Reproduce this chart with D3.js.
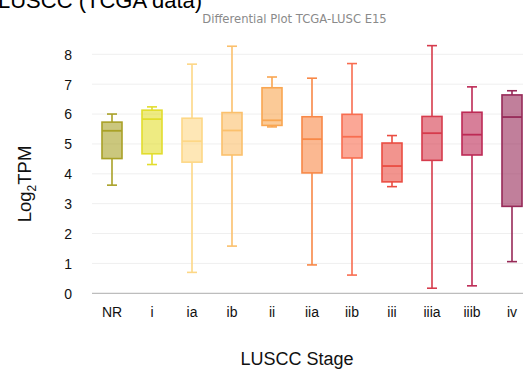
<!DOCTYPE html>
<html>
<head>
<meta charset="utf-8">
<script src="https://cdn.jsdelivr.net/npm/d3@7"></script>
<style>
  body { margin: 0; background: #fff; overflow: hidden; }
  svg { display: block; font-family: "Liberation Sans", Arial, sans-serif; }
</style>
</head>
<body>
<div id="chart"></div>
<script>
const stages = ["NR", "i", "ia", "ib", "ii", "iia", "iib", "iii", "iiia", "iiib", "iv"];
const whiskerLow = [3.62, 4.31, 0.70, 1.58, 5.57, 0.95, 0.61, 3.57, 0.17, 0.25, 1.06];
const q1 = [4.51, 4.67, 4.39, 4.63, 5.62, 4.03, 4.53, 3.73, 4.45, 4.63, 2.91];
const median = [5.44, 5.83, 5.09, 5.45, 5.79, 5.16, 5.24, 4.26, 5.36, 5.31, 5.90];
const q3 = [5.73, 6.13, 5.86, 6.05, 6.88, 5.91, 5.99, 5.03, 5.92, 6.06, 6.64];
const whiskerHigh = [6.00, 6.24, 7.67, 8.27, 7.24, 7.20, 7.69, 5.28, 8.29, 6.91, 6.78];
const colors = ["#a9a127", "#e2dd2e", "#fdd786", "#fbc06c", "#f9a651", "#f88847", "#f86d50", "#ea4d42", "#d63b4c", "#bd2a55", "#972a58"];
const yTicks = [0, 1, 2, 3, 4, 5, 6, 7, 8];

const width = 523;
const height = 370;

const svg = d3.select('#chart')
  .append('svg')
  .attr('width', width)
  .attr('height', height);

const boxes = stages.map((s, i) => ({
  stage: s, lo: whiskerLow[i], q1: q1[i], med: median[i], q3: q3[i], hi: whiskerHigh[i], color: colors[i]
}));

const xScale = d3.scaleBand()
  .domain(stages)
  .range([92, 532])
  .paddingInner(0.5)
  .paddingOuter(0.25);

const yScale = d3.scaleLinear()
  .domain([0, 8])
  .range([293.3, 54.3]);

// gridlines
svg.append('g')
  .selectAll('line')
  .data(yTicks.filter(d => d > 0))
  .join('line')
  .attr('x1', 92)
  .attr('x2', width)
  .attr('y1', d => yScale(d))
  .attr('y2', d => yScale(d))
  .attr('stroke', '#efefef')
  .attr('stroke-width', 1);

// baseline
svg.append('line')
  .attr('x1', 92)
  .attr('x2', width)
  .attr('y1', yScale(0))
  .attr('y2', yScale(0))
  .attr('stroke', '#bdbdbd')
  .attr('stroke-width', 1.2);

// y axis labels
const yAxis = d3.axisLeft(yScale)
  .tickValues(yTicks)
  .tickSize(0)
  .tickPadding(0);

svg.append('g')
  .attr('transform', 'translate(72, 0)')
  .call(yAxis)
  .call(g => g.select('.domain').remove())
  .call(g => g.selectAll('text')
    .attr('font-size', 14)
    .attr('font-family', '"Liberation Sans", Arial, sans-serif')
    .attr('fill', '#111')
    .attr('dy', '0.35em'));

// x axis labels
const xAxis = d3.axisBottom(xScale)
  .tickSize(0)
  .tickPadding(0);

svg.append('g')
  .attr('transform', `translate(0, 307)`)
  .call(xAxis)
  .call(g => g.select('.domain').remove())
  .call(g => g.selectAll('text')
    .attr('font-size', 14)
    .attr('font-family', '"Liberation Sans", Arial, sans-serif')
    .attr('fill', '#111')
    .attr('dy', '0.71em'));

// boxes
const bw = xScale.bandwidth();
const g = svg.append('g')
  .selectAll('g')
  .data(boxes)
  .join('g')
  .attr('transform', d => `translate(${xScale(d.stage)}, 0)`);

g.append('line')
  .attr('x1', bw / 2).attr('x2', bw / 2)
  .attr('y1', d => yScale(d.hi)).attr('y2', d => yScale(d.q3))
  .attr('stroke', d => d.color).attr('stroke-width', 1.6);

g.append('line')
  .attr('x1', bw / 2).attr('x2', bw / 2)
  .attr('y1', d => yScale(d.q1)).attr('y2', d => yScale(d.lo))
  .attr('stroke', d => d.color).attr('stroke-width', 1.6);

g.append('line')
  .attr('x1', bw / 2 - 5).attr('x2', bw / 2 + 5)
  .attr('y1', d => yScale(d.hi)).attr('y2', d => yScale(d.hi))
  .attr('stroke', d => d.color).attr('stroke-width', 1.6);

g.append('line')
  .attr('x1', bw / 2 - 5).attr('x2', bw / 2 + 5)
  .attr('y1', d => yScale(d.lo)).attr('y2', d => yScale(d.lo))
  .attr('stroke', d => d.color).attr('stroke-width', 1.6);

g.append('rect')
  .attr('x', 0)
  .attr('width', bw)
  .attr('y', d => yScale(d.q3))
  .attr('height', d => yScale(d.q1) - yScale(d.q3))
  .attr('fill', d => d.color)
  .attr('fill-opacity', 0.6)
  .attr('stroke', d => d.color)
  .attr('stroke-width', 1.6);

g.append('line')
  .attr('x1', 0).attr('x2', bw)
  .attr('y1', d => yScale(d.med)).attr('y2', d => yScale(d.med))
  .attr('stroke', d => d.color).attr('stroke-width', 1.8);

// titles (top one is cut off by the page edge, as in the reference)
svg.append('text')
  .attr('x', -2)
  .attr('y', 8)
  .attr('font-size', 22)
  .attr('fill', '#000')
  .text('LUSCC (TCGA data)');

svg.append('text')
  .attr('x', 294.5)
  .attr('y', 23)
  .attr('text-anchor', 'middle')
  .attr('font-size', 11.6)
  .attr('font-family', '"DejaVu Sans", Verdana, sans-serif')
  .attr('fill', '#8a8a8a')
  .text('Differential Plot TCGA-LUSC E15');

const yTitle = svg.append('text')
  .attr('transform', 'translate(31, 184) rotate(-90)')
  .attr('text-anchor', 'middle')
  .attr('font-size', 18.5)
  .attr('fill', '#111');
yTitle.append('tspan').text('Log');
yTitle.append('tspan').attr('font-size', 12).attr('dy', 5).text('2');
yTitle.append('tspan').attr('dy', -5).text('TPM');

svg.append('text')
  .attr('x', 297)
  .attr('y', 365)
  .attr('text-anchor', 'middle')
  .attr('font-size', 18)
  .attr('fill', '#111')
  .text('LUSCC Stage');
</script>
</body>
</html>
